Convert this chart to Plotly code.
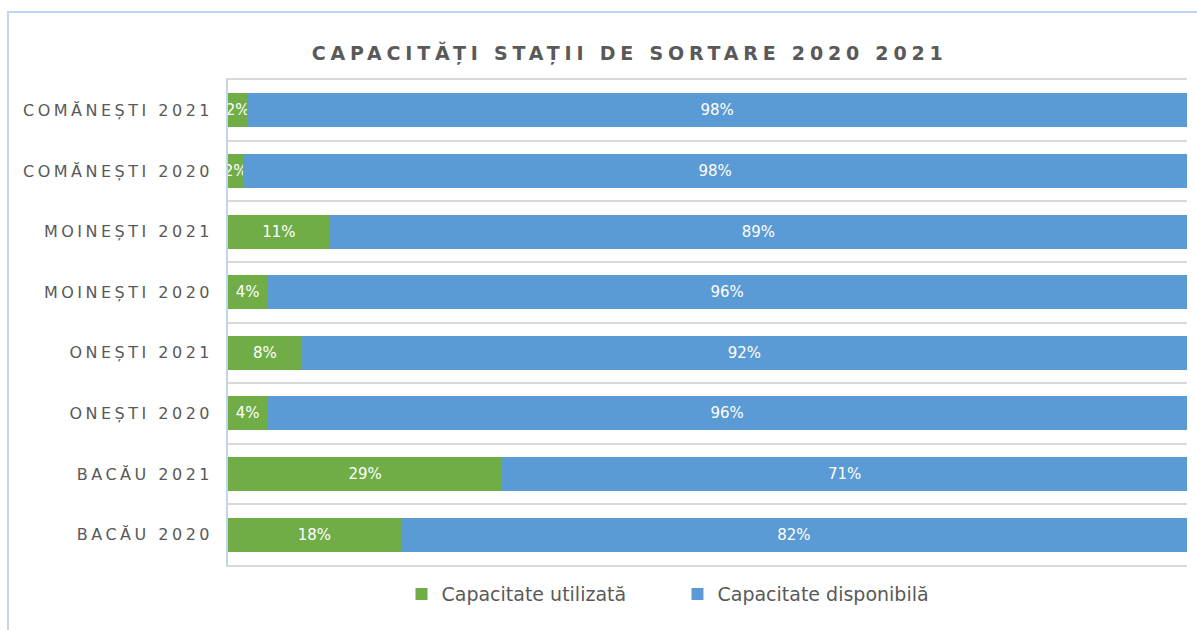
import plotly.graph_objects as go

categories = ["BACĂU 2020", "BACĂU 2021", "ONEȘTI 2020", "ONEȘTI 2021",
              "MOINEȘTI 2020", "MOINEȘTI 2021", "COMĂNEȘTI 2020", "COMĂNEȘTI 2021"]
utilizata = [18.0, 28.6, 4.1, 7.7, 4.1, 10.6, 1.6, 2.0]
disponibila = [82.0, 71.4, 95.9, 92.3, 95.9, 89.4, 98.4, 98.0]

GREEN = "#70ad47"
BLUE = "#5b9bd5"
TXT = "#595959"
FONT = "DejaVu Sans"

fig = go.Figure()
fig.add_trace(go.Bar(
    y=categories, x=utilizata, orientation="h", name="Capacitate utilizată",
    marker=dict(color=GREEN, line=dict(width=0)),
    texttemplate="%{x:.0f}%", textposition="inside", insidetextanchor="middle",
    textangle=0, constraintext="none",
    textfont=dict(color="white", size=15, family=FONT),
    hoverinfo="skip",
))
fig.add_trace(go.Bar(
    y=categories, x=disponibila, orientation="h", name="Capacitate disponibilă",
    marker=dict(color=BLUE, line=dict(width=0)),
    texttemplate="%{x:.0f}%", textposition="inside", insidetextanchor="middle",
    textangle=0, constraintext="none",
    textfont=dict(color="white", size=15, family=FONT),
    hoverinfo="skip",
))

fig.update_layout(
    width=1197, height=630,
    margin=dict(l=228, r=10, t=80, b=65),
    paper_bgcolor="white", plot_bgcolor="white",
    barmode="stack", bargap=0.44,
    font=dict(family=FONT, color=TXT),
    title=dict(text="<b>CAPACITĂȚI STAȚII DE SORTARE 2020 2021</b>",
               x=0.526, xanchor="center", y=1 - 53 / 630, yanchor="middle",
               font=dict(size=19, color=TXT, family=FONT)),
    xaxis=dict(range=[0, 100], showticklabels=False, showgrid=False,
               zeroline=False, showline=True, linecolor="#d9d9d9",
               linewidth=1.5, mirror=True, ticks=""),
    yaxis=dict(type="category", tickson="boundaries", showgrid=True,
               gridcolor="#d9d9d9", gridwidth=1.5, ticks="",
               showline=True, linecolor="#bdd7ee", linewidth=1.5,
               ticklabelstandoff=10,
               tickfont=dict(size=16, color=TXT, family=FONT)),
    legend=dict(orientation="h", x=0.4687, xanchor="center", y=-0.06,
                yanchor="middle", font=dict(size=19, color=TXT, family=FONT),
                traceorder="normal", entrywidth=231),
    showlegend=True,
    shapes=[dict(type="rect", xref="paper", yref="paper",
                 x0=-0.2294, x1=1.02, y0=-0.2, y1=1.1402,
                 line=dict(color="#bdd7ee", width=2), fillcolor="rgba(0,0,0,0)",
                 layer="below")],
)

post = """
var s=document.createElement('style');
s.textContent='.gtitle{letter-spacing:4.8px !important;} .ytick text{letter-spacing:3.5px !important;}';
document.head.appendChild(s);
"""
fig.write_html("out.html", post_script=post)
